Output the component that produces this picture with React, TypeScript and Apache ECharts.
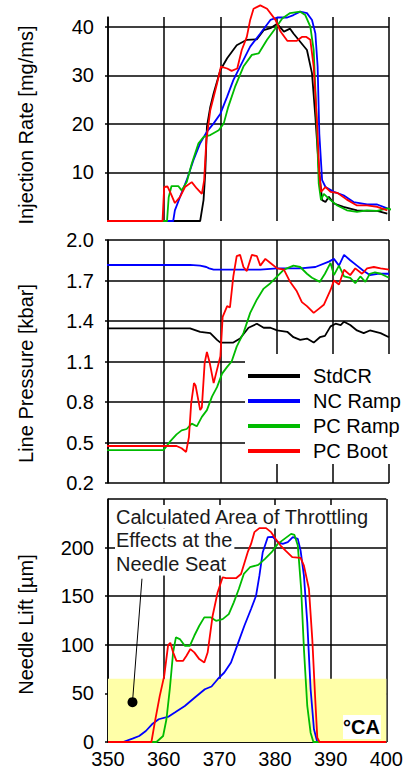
import React, { useEffect, useRef } from "react";
import * as echarts from "echarts";

const FONT = '"Liberation Sans", Arial, Helvetica, sans-serif';

const seriesNames = ["StdCR", "NC Ramp", "PC Ramp", "PC Boot"];
const seriesColors = ["#000000", "#0000ff", "#00bb00", "#ff0000"];

// Injection rate [mg/ms] vs crank angle [°CA]
const rateStdCR = [[350,0],[366.4,0],[367.0,4.3],[367.3,9.8],[367.6,19.4],[368.2,23.5],[368.8,26.3],[370.0,31.1],[371.2,33.5],[372.9,36.2],[374.7,37.3],[376.5,37.4],[377.7,39.3],[378.9,39.7],[380.1,40.6],[381.3,39.0],[382.4,39.6],[383.0,38.6],[384.2,36.9],[385.4,35.2],[386.3,30.4],[386.9,21.4],[387.5,11.1],[388.1,4.3],[388.7,3.9],[389.3,5.0],[390.2,3.6],[391.9,2.9],[394.3,2.2],[396.1,2.1],[397.9,2.1],[399.7,1.5]];
const rateNCRamp = [[350,0],[361.6,0],[361.9,2.2],[362.8,4.9],[364.0,8.4],[365.2,12.5],[366.4,16.0],[367.6,18.4],[368.8,20.1],[370.0,22.1],[371.2,25.6],[372.3,29.0],[373.5,31.8],[375.3,35.9],[377.1,38.6],[378.9,41.4],[380.1,41.9],[381.9,41.9],[383.0,42.4],[384.2,43.1],[385.4,42.8],[386.3,41.4],[386.9,38.6],[387.3,31.8],[387.6,18.0],[388.1,8.4],[388.7,7.0],[390.2,6.0],[391.9,5.3],[393.7,3.9],[396.1,3.4],[397.9,3.4],[399.7,2.6]];
const ratePCRamp = [[351.2,0],[360.5,0],[360.8,4.9],[361.3,7.2],[362.5,7.2],[363.1,6.3],[364.0,8.0],[364.9,11.8],[366.1,16.0],[367.0,17.3],[368.2,17.7],[369.7,18.7],[370.6,20.1],[371.4,23.5],[372.6,27.6],[374.1,31.8],[375.6,34.2],[376.8,34.5],[378.3,37.3],[379.8,39.7],[381.0,41.7],[382.4,42.8],[384.2,43.1],[385.1,42.4],[386.0,40.0],[386.6,35.2],[387.1,21.4],[387.5,7.7],[387.9,4.3],[388.4,5.6],[389.3,4.6],[390.8,3.2],[392.5,2.2],[394.3,1.9],[396.1,2.2],[397.9,2.1],[399.7,2.6],[401.7,1.9]];
const ratePCBoot = [[349.6,0],[359.7,0],[360.0,7.0],[360.6,7.1],[361.2,5.6],[361.9,3.7],[362.8,4.9],[363.7,7.0],[364.9,8.0],[365.8,6.7],[366.7,5.6],[367.1,8.3],[367.5,16.6],[368.2,22.8],[369.4,28.3],[370.1,31.8],[371.2,31.4],[372.0,30.9],[373.0,31.4],[373.8,35.2],[374.7,37.9],[375.3,41.4],[375.9,43.7],[377.1,44.4],[378.3,43.7],[379.8,41.4],[380.7,39.0],[381.9,37.1],[383.6,37.1],[384.5,37.9],[385.3,37.9],[386.0,37.3],[386.6,31.8],[387.2,20.1],[387.6,9.8],[387.9,6.0],[388.7,7.0],[389.6,6.0],[390.8,5.8],[392.5,4.4],[394.3,3.2],[396.1,3.2],[397.9,2.9],[399.7,2.2]];

// Line pressure [kbar]
const pressureStdCR = [[349.8,1.346],[364.6,1.346],[366.4,1.32],[368.2,1.31],[369.4,1.26],[370.0,1.24],[372.3,1.24],[373.5,1.27],[375.0,1.35],[376.5,1.38],[377.7,1.35],[378.9,1.35],[380.1,1.33],[381.9,1.32],[383.0,1.28],[384.2,1.26],[385.4,1.27],[386.6,1.24],[387.7,1.28],[388.6,1.29],[389.6,1.36],[390.5,1.38],[391.4,1.37],[392.0,1.395],[393.1,1.37],[394.3,1.33],[395.5,1.31],[396.6,1.33],[398.5,1.31],[400,1.28]];
const pressureNCRamp = [[349.8,1.815],[364.6,1.815],[366.4,1.81],[367.5,1.80],[368.0,1.79],[368.8,1.78],[372.3,1.78],[377.1,1.78],[380.1,1.79],[384.2,1.79],[386.9,1.80],[389.3,1.84],[390.2,1.86],[391.1,1.81],[392.0,1.89],[393.1,1.85],[394.3,1.81],[395.5,1.77],[396.6,1.74],[398.0,1.75],[400,1.75]];
const pressurePCRamp = [[349.8,0.444],[359.9,0.444],[361.1,0.51],[362.2,0.56],[363.1,0.59],[364.0,0.60],[364.9,0.64],[365.8,0.62],[366.7,0.69],[367.6,0.74],[368.5,0.84],[369.4,0.91],[370.3,1.01],[371.2,1.06],[372.0,1.10],[372.9,1.21],[374.1,1.31],[375.3,1.46],[376.5,1.56],[377.7,1.64],[378.9,1.68],[380.1,1.73],[381.3,1.78],[383.0,1.81],[384.2,1.80],[385.4,1.75],[386.3,1.72],[387.7,1.69],[388.6,1.75],[389.6,1.83],[390.2,1.74],[391.1,1.81],[392.0,1.73],[393.1,1.72],[394.0,1.68],[394.9,1.73],[395.8,1.69],[396.6,1.75],[397.5,1.76],[398.5,1.75],[400,1.72]];
const pressurePCBoot = [[349.8,0.474],[362.2,0.474],[363.1,0.457],[363.9,0.43],[364.4,0.54],[364.8,0.79],[365.3,0.94],[365.6,0.92],[366.4,0.74],[366.7,0.76],[367.2,1.09],[367.6,1.17],[368.1,1.09],[368.8,0.94],[369.4,1.04],[370.0,1.14],[370.4,1.43],[371.2,1.51],[371.7,1.50],[372.3,1.73],[372.9,1.88],[373.5,1.89],[374.1,1.80],[374.7,1.77],[375.6,1.89],[376.5,1.88],[377.1,1.81],[378.0,1.86],[378.9,1.83],[380.1,1.79],[381.3,1.78],[382.4,1.69],[383.6,1.62],[384.5,1.54],[385.4,1.51],[386.6,1.46],[387.5,1.49],[388.4,1.52],[389.6,1.63],[390.2,1.70],[391.1,1.67],[392.0,1.78],[393.1,1.74],[394.0,1.79],[395.2,1.75],[396.1,1.79],[397.3,1.80],[398.5,1.79],[400,1.78]];

// Needle lift [µm]
const liftNCRamp = [[350,0],[352.7,0],[354.4,3.5],[355.6,6.2],[356.8,11.3],[357.9,18.2],[359.1,23.4],[360.9,26.2],[362.0,30.3],[363.8,37.1],[365.6,45.8],[367.4,54.3],[368.6,57.1],[369.7,64.6],[370.9,71.5],[372.1,81.8],[373.3,100.7],[374.5,119.6],[375.7,136.8],[376.6,150.5],[377.2,171.1],[377.8,195.3],[378.7,210.7],[379.6,211],[380.5,205.6],[381.4,203.8],[382.3,205.6],[383.2,210.7],[384.1,209],[384.6,196.9],[385.2,171.1],[385.8,123.1],[386.4,54.3],[387.0,13.1],[387.6,0],[400,0]];
const liftPCRamp = [[350,0],[358.7,0],[359.9,6.2],[360.5,23.4],[361.1,54.3],[361.7,92.2],[362.2,107.6],[362.9,105.9],[363.8,99],[364.7,99],[365.5,109.3],[366.4,119.6],[367.3,128.2],[368.5,128.2],[369.4,124.7],[370.6,126.4],[371.7,131.6],[372.6,143.7],[373.5,157.4],[374.4,172.9],[375.5,179.8],[377.0,182.2],[378.2,188.4],[379.4,195.3],[380.5,203.8],[381.7,209],[382.9,214.1],[383.5,213],[384.1,202.1],[384.7,157.4],[385.2,95.6],[385.8,37.1],[386.4,9.6],[386.9,0],[400,0]];
const liftPCBoot = [[350,0],[357.8,0],[358.4,20],[359.3,47.4],[360.1,68],[360.8,99.7],[361.2,102],[361.7,92.2],[362.3,83.5],[363.5,83.5],[364.1,88.7],[364.8,95.6],[365.5,92.2],[366.4,85.3],[367.3,81.8],[367.9,92],[368.8,129.9],[369.7,154],[370.6,169.5],[371.2,168.5],[373.0,168.5],[373.9,172.9],[375.1,195.3],[375.7,203.8],[376.3,215.9],[377.2,220],[378.4,220],[379.3,215.9],[380.1,209],[381.0,202.1],[381.9,196.9],[383.1,190.1],[384.6,189.4],[385.2,181.4],[386.1,157.4],[386.7,105.9],[387.2,47.4],[387.6,4.5],[388.0,0],[400,0]];

const PRESSURE_BASE = 0.2;
const throttleLimit = 65;
const markerDot = [354.4, 41];
const markerLeaderTop = [356.1, 168];
const annotationLines = ["Calculated Area of Throttling", "Effects at the", "Needle Seat"];

export default function App() {
  const ref = useRef<HTMLDivElement>(null);
  useEffect(() => {
    if (!ref.current) return;
    const chart = echarts.init(ref.current, null, { renderer: "svg" });
    const line = { color: "#000", width: 1.5 };
    const label = { color: "#000", fontSize: 20, fontFamily: FONT };

    const mk = (idx: number, data: number[][], panel: number, transform?: (v: number) => number) => ({
      type: "line",
      name: seriesNames[idx],
      xAxisIndex: panel,
      yAxisIndex: panel,
      data: transform ? data.map(([x, y]) => [x, transform(y)]) : data,
      showSymbol: false,
      symbol: "none",
      clip: panel !== 0,
      z: 2,
      lineStyle: { color: seriesColors[idx], width: 1.8 },
      itemStyle: { color: seriesColors[idx] },
    });
    const shift = (v: number) => +(v - PRESSURE_BASE).toFixed(4);

    const yBase = (gridIndex: number) => ({
      type: "value",
      gridIndex,
      nameLocation: "middle",
      nameGap: 72,
      axisLine: { show: true, lineStyle: line },
      axisTick: { show: true, length: 3, lineStyle: line },
      axisLabel: { ...label, margin: 14 },
      splitLine: { show: true, lineStyle: line },
    });

    chart.setOption({
      animation: false,
      grid: [
        { left: 108, right: 17, top: 17, height: 204 },
        { left: 108, right: 17, top: 240, height: 243 },
        { left: 108, right: 17, top: 499, height: 244 },
      ],
      xAxis: [0, 1, 2].map((i) => ({
        type: "value",
        gridIndex: i,
        min: 350,
        max: 400,
        interval: 10,
        axisLine: { show: i === 2, onZero: false, lineStyle: line },
        axisTick: { show: false },
        axisLabel: { show: i === 2, ...label, margin: 7 },
        splitLine: { show: true, lineStyle: line },
      })),
      yAxis: [
        {
          ...yBase(0),
          min: 0,
          max: 42,
          interval: 10,
          name: "Injection Rate [mg/ms]",
          nameTextStyle: { ...label, padding: [0, 12, 0, 0] },
          axisLabel: { ...label, margin: 14, showMinLabel: false, showMaxLabel: false },
          splitLine: { show: true, showMinLine: false, showMaxLine: false, lineStyle: line },
        },
        {
          ...yBase(1),
          min: 0,
          max: 1.8,
          interval: 0.3,
          name: "Line Pressure [kbar]",
          nameTextStyle: { ...label, padding: [0, 24, 0, 0] },
          axisLabel: {
            ...label,
            margin: 14,
            formatter: (v: number) => (v + PRESSURE_BASE).toFixed(1),
          },
        },
        {
          ...yBase(2),
          min: 0,
          max: 250,
          interval: 50,
          name: "Needle Lift [µm]",
          nameTextStyle: { ...label, padding: [0, 8, 0, 0] },
          axisLabel: { ...label, margin: 14, showMaxLabel: false },
        },
      ],
      legend: {
        data: seriesNames,
        orient: "vertical",
        left: 245,
        top: 354,
        backgroundColor: "#fff",
        padding: [12, 12, 3, 3],
        itemGap: 5,
        itemWidth: 52,
        itemHeight: 4,
        icon: "rect",
        selectedMode: false,
        textStyle: { ...label, lineHeight: 20, padding: [0, 0, 0, 8] },
      },
      series: [
        {
          type: "line",
          name: "throttleArea",
          xAxisIndex: 2,
          yAxisIndex: 2,
          data: [],
          z: -1,
          silent: true,
          markArea: {
            silent: true,
            itemStyle: { color: "#ffffa8" },
            data: [[{ coord: [350, 0] }, { coord: [400, throttleLimit] }]],
          },
        },
        mk(0, rateStdCR, 0),
        mk(1, rateNCRamp, 0),
        mk(2, ratePCRamp, 0),
        mk(3, ratePCBoot, 0),
        mk(0, pressureStdCR, 1, shift),
        mk(1, pressureNCRamp, 1, shift),
        mk(2, pressurePCRamp, 1, shift),
        mk(3, pressurePCBoot, 1, shift),
        mk(1, liftNCRamp, 2),
        mk(2, liftPCRamp, 2),
        mk(3, liftPCBoot, 2),
        {
          type: "line",
          name: "annotationMarker",
          xAxisIndex: 2,
          yAxisIndex: 2,
          data: [],
          z: 3,
          silent: true,
          markPoint: {
            symbol: "circle",
            symbolSize: 10,
            itemStyle: { color: "#000" },
            label: { show: false },
            data: [{ coord: markerDot }],
          },
          markLine: {
            symbol: ["none", "none"],
            silent: true,
            label: { show: false },
            lineStyle: { color: "#000", width: 1, type: "solid" },
            data: [[{ coord: markerDot }, { coord: markerLeaderTop }]],
          },
        },
      ],
      graphic: [
        ...annotationLines.map((t, i) => ({
          type: "text",
          x: 115,
          y: 505 + i * 23.5,
          z: 1,
          silent: true,
          style: {
            text: t,
            fontSize: 20,
            fontFamily: FONT,
            fill: "#1a1a1a",
            backgroundColor: "#fff",
            padding: [1, 2, 1, 1],
            lineHeight: 21.5,
            verticalAlign: "top",
          },
        })),
        {
          type: "text",
          x: 343,
          y: 715,
          z: 5,
          silent: true,
          style: {
            text: "°CA",
            fontSize: 20,
            fontWeight: "bold",
            fontFamily: FONT,
            fill: "#000",
            backgroundColor: "#fff",
            padding: [2, 1, 2, 0],
            lineHeight: 20,
            verticalAlign: "top",
          },
        },
      ],
    });
    return () => chart.dispose();
  }, []);
  return (
    <div
      ref={ref}
      style={{ position: "fixed", left: 0, top: 0, width: 406, height: 769, background: "#fff" }}
    />
  );
}
